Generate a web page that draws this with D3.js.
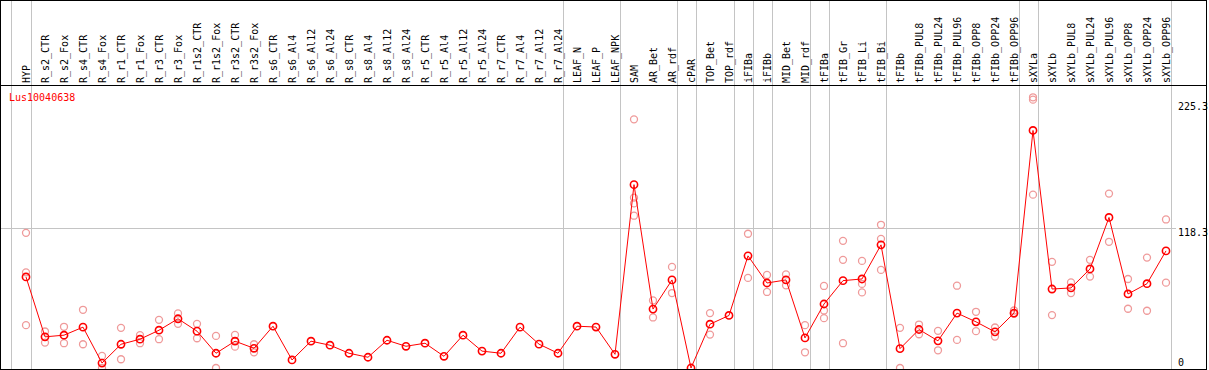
<!DOCTYPE html>
<html><head><meta charset="utf-8">
<script src="https://cdn.jsdelivr.net/npm/d3@7"></script>
<style>html,body{margin:0;padding:0;background:#fff;}svg{display:block;}</style>
</head><body>
<script>
const categories = ["HYP","R_s2_CTR","R_s2_Fox","R_s4_CTR","R_s4_Fox","R_r1_CTR","R_r1_Fox","R_r3_CTR","R_r3_Fox","R_r1s2_CTR","R_r1s2_Fox","R_r3s2_CTR","R_r3s2_Fox","R_s6_CTR","R_s6_Al4","R_s6_Al12","R_s6_Al24","R_s8_CTR","R_s8_Al4","R_s8_Al12","R_s8_Al24","R_r5_CTR","R_r5_Al4","R_r5_Al12","R_r5_Al24","R_r7_CTR","R_r7_Al4","R_r7_Al12","R_r7_Al24","LEAF_N","LEAF_P","LEAF_NPK","SAM","AR_Bet","AR_rdf","cPAR","TOP_Bet","TOP_rdf","iFIBa","iFIBb","MID_Bet","MID_rdf","tFIBa","tFIB_Gr","tFIB_Li","tFIB_Bi","tFIBb","tFIBb_PUL8","tFIBb_PUL24","tFIBb_PUL96","tFIBb_OPP8","tFIBb_OPP24","tFIBb_OPP96","sXYLa","sXYLb","sXYLb_PUL8","sXYLb_PUL24","sXYLb_PUL96","sXYLb_OPP8","sXYLb_OPP24","sXYLb_OPP96"];
const means = [77.1,26.4,27.8,34.6,4.2,20.1,24.4,32,41.7,31.2,12.5,22.7,16.7,35.4,6.8,22.7,19.3,12.5,9.1,23.5,18.4,21,9.9,27.8,14.3,12.5,34.6,20.2,12.5,35.4,34.7,11.6,155.3,49.9,74.6,0,37.1,44.5,95,72,74.6,25.5,54.2,74,75.4,104.3,16.4,32.6,23,46.5,39.1,30.6,46.5,201.2,66.9,67.8,83.9,127.5,62.7,71.4,99.2];
const replicates = [[114.5,81,36.3],[30.9,21.5],[34.9,21],[49.3,20.1],[10.2,0],[34,7.4],[27.8,21],[40.8,24.4],[46.2,37.4],[37.4,25.2],[27.2,0],[28,18.1],[20.1,13.3],[],[],[],[],[],[],[],[],[],[],[],[],[],[],[],[],[],[],[],[210.6,144.3,139.4,129],[57.2,42.8],[85.6,63.5],[],[46.5,28.3],[],[113.7,76.3],[78.8,64.4],[79.3,70],[36.3,13.3],[69.5,48.7,42.2],[107.7,91.6,21],[90.7,71.2,64],[121.3,109.4,83.1],[34,0],[36.8,28.6],[31.5,15],[69.7,23.8],[47.6,31.2],[34.3,26.6],[48.7,45.9],[229.3,227.3,146.8],[89.9,44.8],[72.5,63.5],[91.6,77.4],[147.7,106.9],[75.4,50.2],[93.5,48.5],[125.8,72.3]];
const groupEnds = ["HYP","R_r7_Al24","LEAF_NPK","AR_rdf","cPAR","TOP_rdf","iFIBa","iFIBb","MID_rdf","tFIBa","tFIB_Bi","tFIBb_OPP96","sXYLa","sXYLb_OPP96"];
const yTicks = [0,118.3,225.3];
const gridTicks = [118.3];
const geneName = "Lus10040638";

const W = 1209, H = 370;
const svg = d3.select("body").append("svg").attr("width", W).attr("height", H);
const x = d3.scalePoint().domain(categories).range([26, 1166]);
const y = d3.scaleLinear().domain([0, 225.3]).range([368, 102]);
const font = "'DejaVu Sans Mono', monospace";

// vertical group separators
const sepX = [x(categories[0]) - 15.5].concat(groupEnds.map(c => x(c) + 4.5));
svg.append("g").selectAll("line").data(sepX).join("line")
  .attr("x1", d => Math.round(d) + 0.5).attr("x2", d => Math.round(d) + 0.5)
  .attr("y1", 0).attr("y2", H)
  .attr("stroke", "#c4c4c4").attr("stroke-width", 1);

// horizontal gridline
svg.append("g").selectAll("line").data(gridTicks).join("line")
  .attr("x1", 0).attr("x2", 1176)
  .attr("y1", d => Math.round(y(d)) + 0.5).attr("y2", d => Math.round(y(d)) + 0.5)
  .attr("stroke", "#c4c4c4").attr("stroke-width", 1);

// header line
svg.append("line").attr("x1", 0).attr("x2", 1207).attr("y1", 85.5).attr("y2", 85.5)
  .attr("stroke", "#000").attr("stroke-width", 1);

// column labels
svg.append("g").selectAll("text").data(categories).join("text")
  .attr("transform", d => `translate(${x(d) + 3.5},83) rotate(-90)`)
  .attr("font-family", font).attr("font-size", 10).attr("fill", "#000")
  .text(d => d);

// gene name
svg.append("text").attr("x", 9).attr("y", 101)
  .attr("font-family", font).attr("font-size", 10).attr("fill", "#ff0000")
  .text(geneName);

// right axis labels
svg.append("g").selectAll("text").data(yTicks).join("text")
  .attr("x", 1178)
  .attr("y", d => d === 0 ? y(d) - 2.5 : y(d) + 7.5)
  .attr("font-family", font).attr("font-size", 10).attr("fill", "#000")
  .text(d => d3.format("")(d));

// replicates
const repData = [];
replicates.forEach((arr, i) => arr.forEach(v => repData.push({c: categories[i], v})));
svg.append("g").selectAll("circle").data(repData).join("circle")
  .attr("cx", d => x(d.c)).attr("cy", d => y(d.v)).attr("r", 3.5)
  .attr("fill", "none").attr("stroke", "#ef9a9a").attr("stroke-width", 1.3);

// mean line
const meanData = categories.map((c, i) => ({c, v: means[i]}));
svg.append("path").datum(meanData)
  .attr("d", d3.line().x(d => x(d.c)).y(d => y(d.v)))
  .attr("fill", "none").attr("stroke", "#ff0000").attr("stroke-width", 1);

svg.append("g").selectAll("circle").data(meanData).join("circle")
  .attr("cx", d => x(d.c)).attr("cy", d => y(d.v)).attr("r", 3.6)
  .attr("fill", "none").attr("stroke", "#ff0000").attr("stroke-width", 1.6);

// border
svg.append("rect").attr("x", 0.5).attr("y", 0.5).attr("width", 1206).attr("height", 369)
  .attr("fill", "none").attr("stroke", "#000").attr("stroke-width", 1);
</script>
</body></html>
